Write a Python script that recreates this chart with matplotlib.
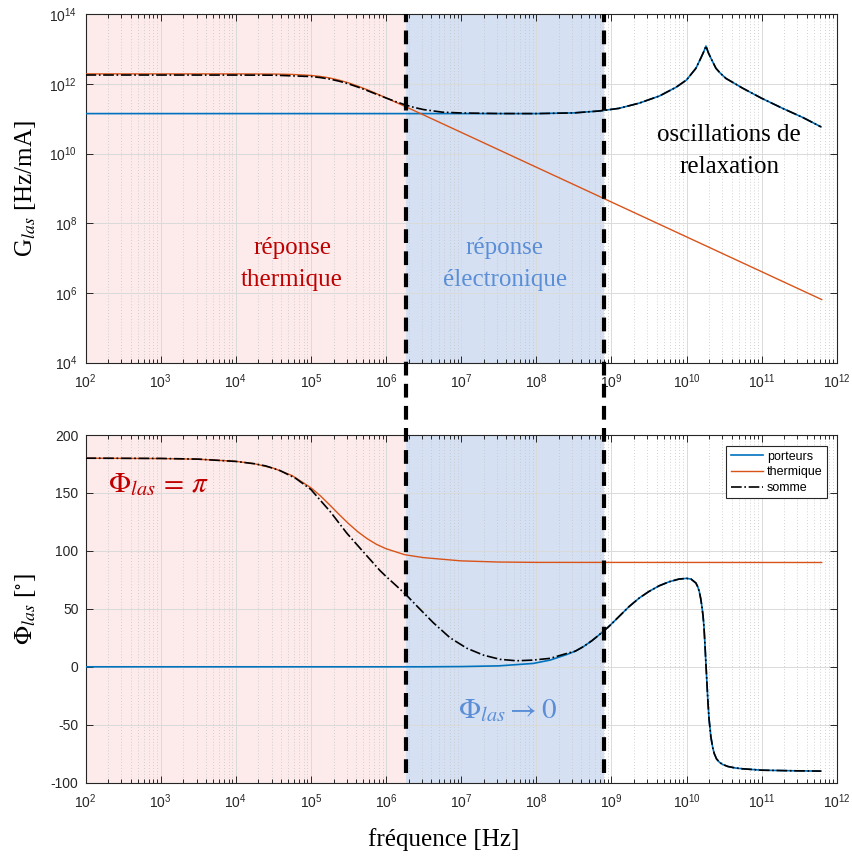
import matplotlib
matplotlib.use('Agg')
import matplotlib.pyplot as plt
import numpy as np
from matplotlib.lines import Line2D
import matplotlib.transforms as mtransforms
from matplotlib.ticker import FixedLocator, NullLocator, LogLocator, NullFormatter

plt.rcParams['font.family'] = ['Liberation Sans', 'DejaVu Sans']
plt.rcParams['mathtext.fontset'] = 'stix'
plt.rcParams['axes.unicode_minus'] = False

# ---------------- data (frequencies and gains as log10) ----------------
# Gain, carriers ("porteurs")
g_car_logf = [2.0, 8.0, 8.5, 8.84, 9.1, 9.37, 9.64, 9.86, 10.0, 10.125, 10.19, 10.23, 10.259,
              10.29, 10.325, 10.392, 10.45, 10.525, 10.747, 11.0, 11.28, 11.547, 11.79]
g_car_logG = [11.15, 11.15, 11.17, 11.225, 11.30, 11.45, 11.656, 11.905, 12.115, 12.45, 12.74, 12.93, 13.09,
              12.90, 12.74, 12.45, 12.31, 12.16, 11.88, 11.59, 11.30, 11.04, 10.77]
# Gain, thermal ("thermique")
g_th_logf = [2.0, 4.0, 4.5, 4.75, 5.0, 5.125, 5.25, 5.375, 5.5, 5.625, 5.75, 5.875, 6.0, 6.25, 6.5,
             7.0, 8.0, 9.0, 10.0, 11.0, 11.8]
g_th_logG = [12.29, 12.29, 12.285, 12.275, 12.246, 12.217, 12.173, 12.111, 12.033, 11.939, 11.834, 11.721,
             11.603, 11.359, 11.111, 10.612, 9.612, 8.612, 7.612, 6.612, 5.812]
# Gain, sum ("somme") below 1e8 Hz; above, it coincides with the carriers curve
g_sum_logf_low = [2.0, 4.0, 4.5, 5.0, 5.125, 5.25, 5.375, 5.5, 5.625, 5.75, 5.875, 6.0, 6.125, 6.25,
                  6.375, 6.5, 6.75, 7.0, 7.5, 8.0]
g_sum_logG_low = [12.258, 12.256, 12.253, 12.214, 12.185, 12.141, 12.081, 12.004, 11.912, 11.811, 11.704,
                  11.598, 11.497, 11.405, 11.326, 11.265, 11.191, 11.168, 11.152, 11.15]

# Phase, carriers
p_car_logf = [2.0, 6.5, 7.0, 7.5, 7.96, 8.185, 8.41, 8.52, 8.63, 8.74, 8.836, 8.97, 9.10, 9.236,
              9.37, 9.50, 9.636, 9.77, 9.90, 10.0, 10.06, 10.125, 10.15, 10.17, 10.19, 10.205,
              10.22, 10.232, 10.245, 10.259, 10.272, 10.285, 10.30, 10.325, 10.35, 10.37, 10.40,
              10.44, 10.48, 10.55, 10.65, 10.747, 11.0, 11.4, 11.79]
p_car_deg = [0, 0, 0.2, 0.8, 2.9, 5.8, 10.7, 13.5, 17.5, 22.5, 27.5, 35.0, 43.3, 52.0,
             59.3, 65.0, 69.9, 73.4, 75.7, 76.3, 75.7, 72.3, 69.0, 65.0, 58.5, 52.0,
             44.0, 35.0, 20.0, 2.0, -14.0, -30.0, -45.0, -60.7, -70.0, -75.0, -79.5,
             -82.5, -84.2, -86.0, -87.3, -88.0, -89.2, -89.7, -90.0]
# Phase, thermal
p_th_logf = [2.0, 3.0, 3.5, 4.0, 4.25, 4.5, 4.75, 5.0, 5.125, 5.25, 5.375, 5.5, 5.625, 5.75, 5.875,
             6.0, 6.25, 6.5, 7.0, 7.5, 8.0, 11.8]
p_th_deg = [180, 179.7, 179.1, 177.3, 175.2, 171.4, 165.0, 154.5, 147.6, 139.7, 131.5, 123.6, 116.5,
            110.5, 105.6, 101.9, 96.7, 94.2, 91.4, 90.4, 90.1, 90.0]
# Phase, sum below 10^8.5 Hz; above, it coincides with the carriers curve
p_sum_logf_low = [2.0, 3.0, 3.5, 4.0, 4.25, 4.4, 4.59, 4.8, 5.0, 5.256, 5.478, 5.70, 5.92, 6.0,
                  6.144, 6.277, 6.41, 6.63, 6.853, 7.076, 7.30, 7.52, 7.74, 7.96, 8.185, 8.41]
p_sum_deg_low = [180, 179.8, 179.2, 177.2, 175.2, 173.3, 169.3, 162.5, 153, 134, 115.3, 99, 83, 78,
                 69.5, 61.5, 52.5, 38, 25, 16, 10, 6.4, 5.2, 5.8, 7.3, 11.6]

# region boundaries (Hz)
f_min, f_therm_end, f_elec_end, f_max = 1e2, 1.86e6, 8e8, 1e12

series_names = ['porteurs', 'thermique', 'somme']

# ---------------- conversions ----------------
def lin(a):
    return 10.0 ** np.asarray(a, dtype=float)

car_f, car_G = lin(g_car_logf), lin(g_car_logG)
th_f, th_G = lin(g_th_logf), lin(g_th_logG)
cut = np.asarray(g_car_logf) > g_sum_logf_low[-1]
sum_f = np.concatenate([lin(g_sum_logf_low), car_f[cut]])
sum_G = np.concatenate([lin(g_sum_logG_low), car_G[cut]])

pc_f, pc_d = lin(p_car_logf), np.asarray(p_car_deg, float)
pt_f, pt_d = lin(p_th_logf), np.asarray(p_th_deg, float)
cut2 = np.asarray(p_car_logf) > p_sum_logf_low[-1]
ps_f = np.concatenate([lin(p_sum_logf_low), pc_f[cut2]])
ps_d = np.concatenate([np.asarray(p_sum_deg_low, float), pc_d[cut2]])

# ---------------- styling ----------------
C_BLUE = '#0072BD'
C_ORANGE = '#D95319'
C_PINK = '#fdebeb'
C_LBLUE = '#d5e1f3'
C_AX = '#262626'
C_RED_TXT = '#c00000'
C_BLUE_TXT = '#5b8ed6'
SERIF = ['Liberation Serif', 'DejaVu Serif']

fig = plt.figure(figsize=(8.52, 8.57), dpi=100)
ax1 = fig.add_axes([0.1004, 0.5768, 0.8817, 0.4065])
ax2 = fig.add_axes([0.1004, 0.0867, 0.8817, 0.4057])

for ax in (ax1, ax2):
    ax.set_xscale('log')
    ax.set_xlim(f_min, f_max)
    ax.axvspan(f_min, f_therm_end, color=C_PINK, zorder=0, lw=0)
    ax.axvspan(f_therm_end, f_elec_end, color=C_LBLUE, zorder=0, lw=0)
    ax.set_axisbelow(True)
    ax.xaxis.set_major_locator(FixedLocator([10.0 ** k for k in range(2, 13)]))
    ax.xaxis.set_minor_locator(LogLocator(base=10, subs=np.arange(2, 10), numticks=100))
    ax.xaxis.set_minor_formatter(NullFormatter())
    ax.set_xticklabels([r'$\mathdefault{10^{%d}}$' % k for k in range(2, 13)])
    ax.grid(True, which='major', color='#dadada', lw=0.7, ls='-')
    ax.grid(True, which='minor', axis='x', color='#c4c4c4', lw=0.6, ls=(0, (1, 2.5)))
    ax.tick_params(which='both', direction='in', top=True, right=True, color=C_AX,
                   labelcolor=C_AX, width=0.7)
    ax.tick_params(which='major', length=5, labelsize=10)
    ax.tick_params(which='minor', length=3)
    ax.tick_params(axis='x', which='major', pad=7)
    for s in ax.spines.values():
        s.set_color(C_AX)
        s.set_linewidth(0.8)

# top: gain
ax1.set_yscale('log')
ax1.set_ylim(1e4, 1e14)
ax1.yaxis.set_major_locator(FixedLocator([10.0 ** k for k in range(4, 15, 2)]))
ax1.yaxis.set_minor_locator(NullLocator())
ax1.set_yticklabels([r'$\mathdefault{10^{%d}}$' % k for k in range(4, 15, 2)])
ax1.tick_params(axis='y', which='major', pad=6)
ax1.plot(car_f, car_G, color=C_BLUE, lw=1.2, zorder=3)
ax1.plot(th_f, th_G, color=C_ORANGE, lw=1.0, zorder=3)
ax1.plot(sum_f, sum_G, color='black', lw=1.2, ls='-.', zorder=4)
ax1.set_ylabel(r'G$_{las}$ [Hz/mA]', fontsize=18, family=SERIF)
ax1.yaxis.set_label_coords(-0.063, 0.5)

ax1.text(0.275, 0.283, 'réponse\nthermique', transform=ax1.transAxes, ha='center', va='center',
         fontsize=18, family=SERIF, color=C_RED_TXT, linespacing=1.6)
ax1.text(0.558, 0.283, 'réponse\nélectronique', transform=ax1.transAxes, ha='center', va='center',
         fontsize=18, family=SERIF, color=C_BLUE_TXT, linespacing=1.6)
ax1.text(0.857, 0.608, 'oscillations de\nrelaxation', transform=ax1.transAxes, ha='center', va='center',
         fontsize=18, family=SERIF, color='black', linespacing=1.6)

# bottom: phase
ax2.set_ylim(-100, 200)
ax2.yaxis.set_major_locator(FixedLocator([-100, -50, 0, 50, 100, 150, 200]))
ax2.yaxis.set_minor_locator(NullLocator())
ax2.tick_params(axis='y', which='major', pad=5)
l1, = ax2.plot(pc_f, pc_d, color=C_BLUE, lw=1.2, zorder=3)
l2, = ax2.plot(pt_f, pt_d, color=C_ORANGE, lw=1.0, zorder=3)
l3, = ax2.plot(ps_f, ps_d, color='black', lw=1.2, ls='-.', zorder=4)
ax2.set_ylabel(r'$\Phi_{las}$ [$^{\circ}$]', fontsize=18, family=SERIF)
ax2.yaxis.set_label_coords(-0.063, 0.5)

ax2.text(0.030, 0.859, r'$\Phi_{las}\,=\,\pi$', transform=ax2.transAxes, ha='left', va='center',
         fontsize=21, color=C_RED_TXT)
ax2.text(0.562, 0.209, r'$\Phi_{las}\rightarrow 0$', transform=ax2.transAxes, ha='center', va='center',
         fontsize=21, color=C_BLUE_TXT)

leg = ax2.legend([l1, l2, l3], series_names, loc='upper right', bbox_to_anchor=(0.987, 0.968),
                 borderaxespad=0, fontsize=9, handlelength=2.6, handletextpad=0.3,
                 labelspacing=0.3, fancybox=False, framealpha=1, borderpad=0.35)
leg.get_frame().set_edgecolor(C_AX)
leg.get_frame().set_linewidth(0.8)

fig.text(444 / 852, 1 - 846 / 857, 'fréquence [Hz]', ha='center', va='baseline', fontsize=18,
         family=SERIF)

# dashed separators spanning both panels
trans = mtransforms.blended_transform_factory(ax1.transData, fig.transFigure)
for xv in (f_therm_end, f_elec_end):
    fig.add_artist(Line2D([xv, xv], [1 - 773 / 857, 1 - 14 / 857], transform=trans, color='black',
                          lw=3, ls=(0, (3.3, 2.0)), zorder=10))

fig.savefig('out.png', dpi=100)
